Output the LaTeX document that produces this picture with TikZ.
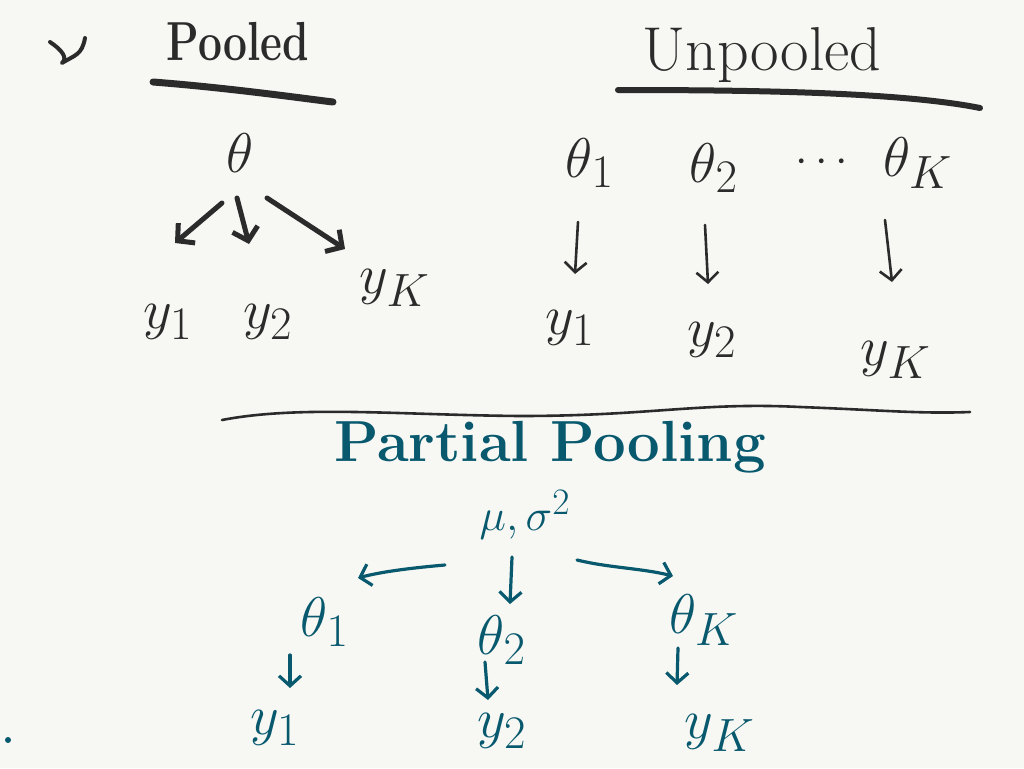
\documentclass[tikz,border=0pt]{standalone}
\usetikzlibrary{arrows.meta}
\usepackage{graphicx}
\definecolor{paper}{HTML}{F7F8F4}
\definecolor{ink}{HTML}{2B2B2B}
\definecolor{teal}{HTML}{08596E}
\newcommand{\bigvar}[1]{\scalebox{2.25}{$#1$}}
\newcommand{\midvar}[1]{\scalebox{1.8}{$#1$}}
\begin{document}
\begin{tikzpicture}[x=1pt,y=-1pt,
  var/.style={inner sep=1pt,font=\fontsize{24.88}{26}\selectfont},
  heavyarrow/.style={ink,line width=5pt,line cap=round,-{Straight Barb[length=12pt,width=26pt,line width=5pt]}},
  thinarrow/.style={ink,line width=2.6pt,line cap=round,-{Straight Barb[length=10pt,width=22pt,line width=2.6pt]}},
  tealarrow/.style={teal,line width=3.2pt,line cap=round,-{Straight Barb[length=10pt,width=22pt,line width=3.2pt]}},
  rule/.style={ink,line cap=round}]
\fill[paper] (0,0) rectangle (1024,768);
\useasboundingbox (0,0) rectangle (1024,768);
% stray marks
\draw[ink,line width=4pt,line cap=round,line join=round] (50,42) .. controls (62,50) and (68,58) .. (62,63) .. controls (75,55) and (82,55) .. (85,38);
\fill[teal] (8,740) circle (3pt);
% ---------------- Pooled ----------------
\node[ink,font=\fontsize{50}{52}\selectfont\bfseries] (pooled) at (238,42) {\scalebox{0.85}[1.1]{Pooled}};
\draw[rule,line width=7pt] (153,82) .. controls (230,88) and (300,98) .. (333,102);
\node[ink,var] (pth) at (240,153) {\bigvar{\theta}};
\node[ink,var] (py1) at (168,322) {\bigvar{y_1}};
\node[ink,var] (py2) at (268,322) {\bigvar{y_2}};
\node[ink,var] (pyk) at (395,288) {\bigvar{y_K}};
\draw[heavyarrow] (222,203) -- (175,243);
\draw[heavyarrow] (237,198) -- (249,244);
\draw[heavyarrow] (267,198) -- (345,249);
% ---------------- Unpooled ----------------
\node[ink,font=\fontsize{62}{64}\selectfont] (unpooled) at (762,55) {Unpooled};
\draw[rule,line width=6pt] (618,90) .. controls (750,90) and (900,92) .. (980,108);
\node[ink,var] (uth1) at (590,163) {\bigvar{\theta_1}};
\node[ink,var] (uth2) at (714,168) {\bigvar{\theta_2}};
\node[ink,var] (udots) at (822,163) {\midvar{\cdots}};
\node[ink,var] (uthk) at (918,163) {\bigvar{\theta_K}};
\node[ink,var] (uy1) at (570,328) {\bigvar{y_1}};
\node[ink,var] (uy2) at (712,340) {\bigvar{y_2}};
\node[ink,var] (uyk) at (896,360) {\bigvar{y_K}};
\draw[thinarrow] (578,222) -- (575,274);
\draw[thinarrow] (705,225) -- (708,284);
\draw[thinarrow] (885,220) -- (892,282);
% separator
\draw[rule,line width=2.6pt] (222,420) .. controls (300,405) and (400,415) .. (520,416) .. controls (650,416) and (700,402) .. (800,407) .. controls (880,410) and (920,414) .. (970,412);
% ---------------- Partial Pooling ----------------
\node[teal,font=\fontsize{58}{60}\selectfont\bfseries] (partial) at (550,447) {Partial Pooling};
\node[teal,var] (mu) at (525,515) {\midvar{\mu,\sigma^2}};
\node[teal,var] (tth1) at (325,622) {\bigvar{\theta_1}};
\node[teal,var] (tth2) at (502,640) {\bigvar{\theta_2}};
\node[teal,var] (tthk) at (704,620) {\bigvar{\theta_K}};
\node[teal,var] (ty1) at (275,728) {\bigvar{y_1}};
\node[teal,var] (ty2) at (502,731) {\bigvar{y_2}};
\node[teal,var] (tyk) at (720,733) {\bigvar{y_K}};
\draw[tealarrow] (445,565) .. controls (410,568) and (380,572) .. (358,578);
\draw[tealarrow] (512,557) -- (510,604);
\draw[tealarrow] (577,560) .. controls (610,568) and (640,568) .. (673,576);
\draw[tealarrow] (290,655) -- (290,688);
\draw[tealarrow] (485,662) -- (488,700);
\draw[tealarrow] (678,648) -- (677,685);
\end{tikzpicture}
\end{document}
